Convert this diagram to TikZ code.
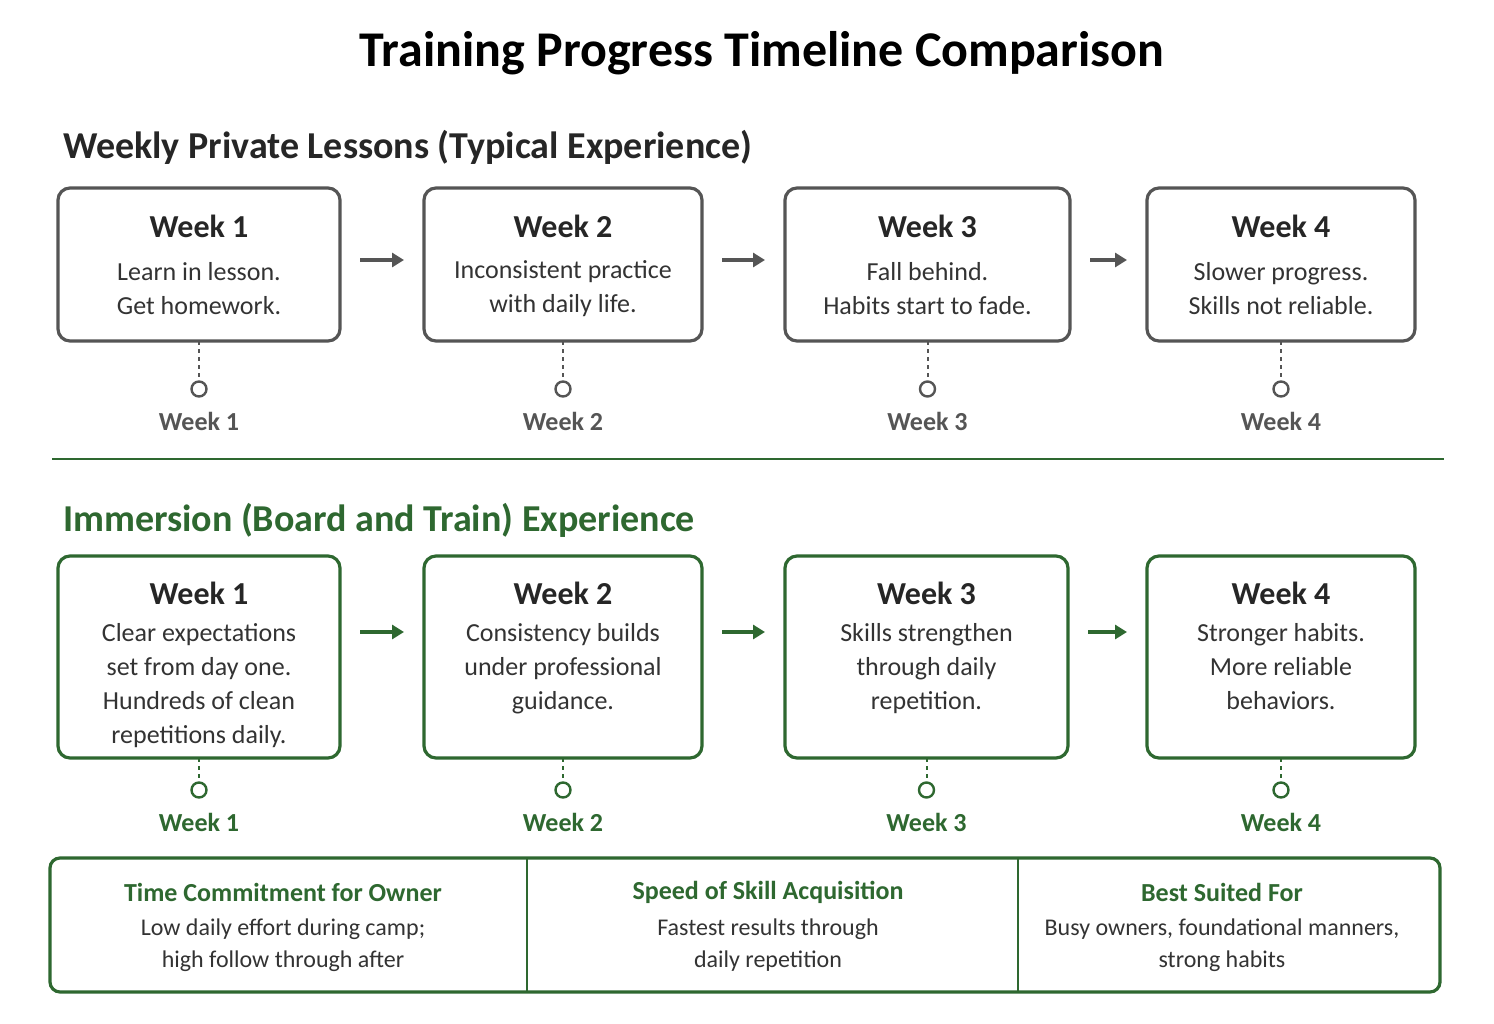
\documentclass[tikz,border=0pt]{standalone}
\usepackage{fontspec}
\setmainfont{Carlito}
\usetikzlibrary{positioning,arrows.meta}
\definecolor{tgray}{RGB}{85,85,85}
\definecolor{tgreen}{RGB}{46,104,48}
\begin{document}
\begin{tikzpicture}[x=0.5pt,y=-0.5pt]
\tikzset{
  wbox/.style={draw=#1,line width=1.6pt,rounded corners=6pt,align=center,anchor=north west,inner sep=0pt},
  wtitle/.style={font=\fontsize{16}{18}\selectfont\bfseries,text=black!85},
  wbody/.style={font=\fontsize{13}{17}\selectfont,text=black!80,align=center},
  step/.style={-{Triangle[length=6pt,width=7pt]},line width=1.6pt,draw=#1},
  tick/.style={draw=#1,line width=1pt,dash pattern=on 2pt off 2pt},
  dot/.style={circle,draw=#1,line width=1.2pt,minimum size=7.5pt,inner sep=0pt,fill=white},
  wlabel/.style={font=\fontsize{13}{15}\selectfont\bfseries,text=#1}
}
\useasboundingbox[fill=white] (0,0) rectangle (1494,1023);
\node[font=\fontsize{25}{28}\selectfont\bfseries] (title) at (762,53) {Training Progress Timeline Comparison};
\node[font=\fontsize{19}{22}\selectfont\bfseries,anchor=west,text=black!85] (head1) at (56,147) {Weekly Private Lessons (Typical Experience)};
\node[font=\fontsize{19}{22}\selectfont\bfseries,anchor=west,text=tgreen] (head2) at (56,520) {Immersion (Board and Train) Experience};

% top row
\foreach \i/\xa/\xb/\txt in {1/58/340/{Learn in lesson.\\Get homework.},
                             2/424/702/{Inconsistent practice\\with daily life.},
                             3/785/1070/{Fall behind.\\Habits start to fade.},
                             4/1147/1415/{Slower progress.\\Skills not reliable.}}{
  \draw[draw=tgray,line width=1.6pt,rounded corners=6pt] (\xa,188) rectangle (\xb,341);
  \coordinate (ta\i) at (\xa,260);
  \coordinate (tb\i) at (\xb,260);
  \coordinate (tc\i) at ({(\xa+\xb)/2},341);
  \node[wtitle] (tt\i) at ({(\xa+\xb)/2},226) {Week \i};
  \node[wbody] (tx\i) at ({(\xa+\xb)/2},289) {\txt};
  \node[dot=tgray] (td\i) at ({(\xa+\xb)/2},389) {};
  \draw[tick=tgray] (tc\i) -- (td\i);
  \node[wlabel=tgray] (tl\i) at ({(\xa+\xb)/2},421) {Week \i};
}
\foreach \a/\b in {1/2,2/3,3/4}{
  \draw[step=tgray] ([xshift=10]tb\a) -- ([xshift=-10]ta\b);
}

\draw[draw=tgreen,line width=1.4pt] (52,459) -- (1444,459);

% bottom row
\foreach \i/\xa/\xb/\txt in {1/58/340/{Clear expectations\\set from day one.\\Hundreds of clean\\repetitions daily.},
                             2/424/702/{Consistency builds\\under professional\\guidance.},
                             3/785/1068/{Skills strengthen\\through daily\\repetition.},
                             4/1147/1415/{Stronger habits.\\More reliable\\behaviors.}}{
  \draw[draw=tgreen,line width=1.6pt,rounded corners=6pt] (\xa,556) rectangle (\xb,758);
  \coordinate (ba\i) at (\xa,632);
  \coordinate (bb\i) at (\xb,632);
  \coordinate (bc\i) at ({(\xa+\xb)/2},758);
  \node[wtitle] (bt\i) at ({(\xa+\xb)/2},593) {Week \i};
  \node[wbody,anchor=north] (bx\i) at ({(\xa+\xb)/2},616) {\txt};
  \node[dot=tgreen] (bd\i) at ({(\xa+\xb)/2},790) {};
  \draw[tick=tgreen] (bc\i) -- (bd\i);
  \node[wlabel=tgreen] (bl\i) at ({(\xa+\xb)/2},822) {Week \i};
}
\foreach \a/\b in {1/2,2/3,3/4}{
  \draw[step=tgreen] ([xshift=10]bb\a) -- ([xshift=-10]ba\b);
}

% summary table
\draw[draw=tgreen,line width=1.6pt,rounded corners=5pt] (50,858) rectangle (1440,992);
\draw[draw=tgreen,line width=1.4pt] (527,858) -- (527,992) (1018,858) -- (1018,992);
\foreach \n/\x/\hd/\txt in {own/283/{Time Commitment for Owner}/{Low daily effort during camp;\\high follow through after},
                            spd/768/{Speed of Skill Acquisition}/{Fastest results through\\daily repetition},
                            fit/1222/{Best Suited For}/{Busy owners, foundational manners,\\strong habits}}{
  \node[font=\fontsize{13}{15}\selectfont\bfseries,text=tgreen] (h\n) at (\x,892) {\hd};
  \node[font=\fontsize{12}{16}\selectfont,text=black!80,align=center] (b\n) at (\x,945) {\txt};
}
\end{tikzpicture}
\end{document}
